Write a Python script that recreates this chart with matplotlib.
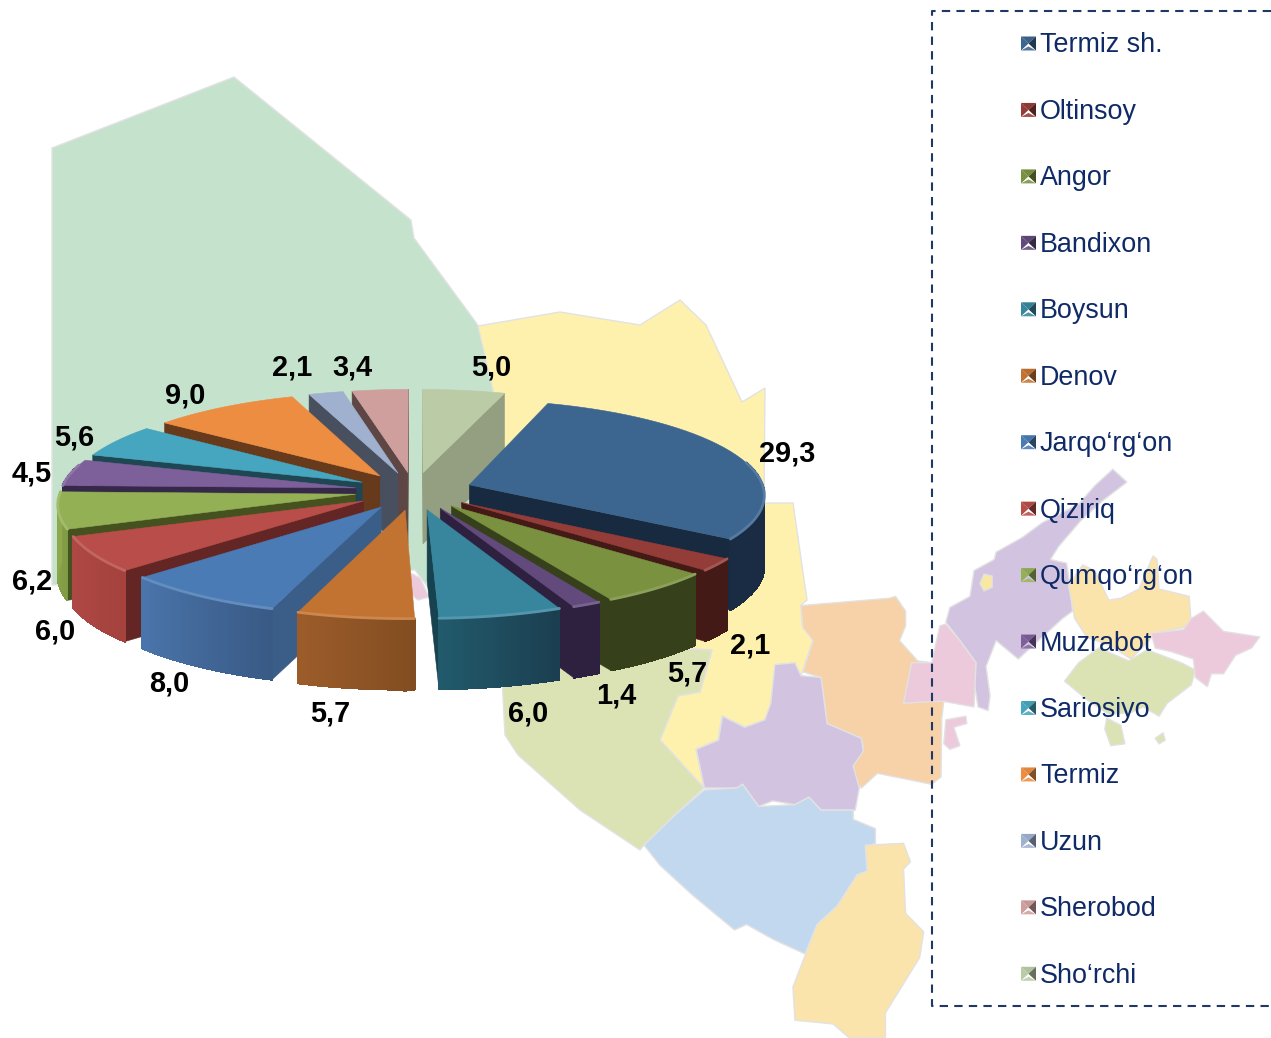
import numpy as np
import matplotlib
matplotlib.use('Agg')
import matplotlib.pyplot as plt
from matplotlib.collections import PolyCollection
from matplotlib.colors import to_rgb

districts = ['Termiz sh.', 'Oltinsoy', 'Angor', 'Bandixon', 'Boysun', 'Denov', 'Jarqo‘rg‘on', 'Qiziriq',
             'Qumqo‘rg‘on', 'Muzrabot', 'Sariosiyo', 'Termiz', 'Uzun', 'Sherobod', 'Sho‘rchi']
shares = [29.3, 2.1, 5.7, 1.4, 6.0, 5.7, 8.0, 6.0, 6.2, 4.5, 5.6, 9.0, 2.1, 3.4, 5.0]

top_colors = ['#3C6590', '#943C38', '#7A9140', '#624A7C', '#38869E', '#C27331', '#4A7BB5', '#B84D49',
              '#93B055', '#7D5F9A', '#46A5BF', '#EC8D42', '#A0B0CF', '#CF9F9E', '#BACBA6']
wall_colors = ['#182A40', '#431A16', '#36401B', '#2E2140', '#174350', '#84501F', '#3A5E88', '#632625',
               '#45521F', '#362848', '#1E4753', '#663A1B', '#484F5E', '#5D4644', '#939F80']
rim_left = ['#1A2C44', '#431A16', '#36401B', '#2E2140', '#215A6B', '#9C5C2A', '#4A75AB', '#AE4844',
            '#8FAA4C', '#362848', '#1E4753', '#663A1B', '#484F5E', '#5D4644', '#939F80']
rim_right = ['#172840', '#431A16', '#36401B', '#2E2140', '#1B3E50', '#824D21', '#395A85', '#A5423E',
             '#7F9A45', '#362848', '#1E4753', '#663A1B', '#484F5E', '#5D4644', '#939F80']

# where the value labels sit, in pixels
label_pos = [(787, 454), (750, 645), (687, 673), (616, 696), (528, 714), (330, 714), (169, 683), (55, 632),
             (32, 582), (32, 474), (74, 438), (185, 396), (292, 368), (352, 367), (491, 367)]

# background map, in pixels
green_nw = [(52, 148), (234, 77), (411, 220), (414, 238), (480, 328), (510, 400), (470, 520), (430, 590),
            (415, 570), (52, 585)]
pink_nw = [(405, 570), (420, 578), (429, 597), (418, 600), (405, 590)]
yellow_n = [(478, 326), (560, 312), (640, 325), (680, 300), (706, 325), (728, 372), (742, 402), (765, 388),
            (764, 503), (793, 503), (807, 600), (801, 605), (802, 625), (813, 640), (801, 676), (795, 663),
            (775, 665), (771, 703), (765, 720), (745, 727), (722, 716), (718, 740), (696, 749), (704, 788),
            (660, 740), (678, 696), (700, 692), (712, 650), (500, 640), (500, 420)]
green_s = [(500, 640), (712, 650), (700, 692), (678, 696), (660, 740), (704, 788), (676, 814), (644, 845),
           (640, 850), (580, 810), (518, 755), (505, 735)]

orange_e = [(400, 395), (620, 375), (635, 370), (660, 410), (660, 450), (645, 490), (690, 545), (725, 550),
            (755, 655), (750, 700), (748, 860), (725, 880), (590, 850), (550, 890), (520, 850), (530, 820),
            (555, 780), (550, 755), (465, 715), (450, 590), (405, 575), (430, 490), (405, 455)]
purple_mid = [(335, 555), (385, 550), (400, 585), (450, 590), (465, 715), (550, 755), (555, 790), (530, 830),
              (545, 890), (535, 950), (450, 950), (420, 915), (385, 935), (330, 925), (295, 940), (255, 880),
              (240, 890), (160, 890), (140, 785), (195, 760), (205, 695), (260, 725), (310, 705), (325, 660)]
blue_s = [(160, 895), (240, 890), (255, 880), (295, 940), (385, 935), (420, 915), (450, 950), (530, 950),
          (530, 975), (585, 1000), (585, 1040), (560, 1050), (565, 1115), (540, 1125), (490, 1210), (440, 1260),
          (410, 1340), (330, 1300), (265, 1260), (235, 1275), (130, 1180), (50, 1100), (10, 1045), (90, 960)]
peach_s = [(560, 1045), (655, 1040), (672, 1090), (655, 1110), (660, 1230), (705, 1280), (695, 1350), (610, 1500),
           (610, 1568), (520, 1568), (480, 1530), (385, 1520), (380, 1430), (410, 1345), (440, 1260), (490, 1210),
           (540, 1125), (565, 1115)]
purple_ne = [(1175, 25), (1210, 60), (1150, 110), (1095, 165), (1040, 235), (1020, 270), (1060, 280), (1070, 350),
             (1075, 410), (1050, 430), (1000, 480), (940, 540), (885, 490), (860, 560), (870, 640), (865, 680),
             (840, 670), (830, 600), (835, 550), (795, 490), (760, 440), (770, 400), (820, 370), (830, 300),
             (880, 270), (885, 250), (950, 210), (1000, 170), (1090, 120), (1130, 70)]
hole_ne = [(855, 310), (875, 315), (875, 345), (855, 355), (845, 335)]
peach_ne = [(1065, 340), (1100, 285), (1130, 300), (1165, 380), (1195, 375), (1240, 350), (1275, 260), (1285, 270),
            (1290, 350), (1365, 370), (1370, 450), (1280, 470), (1265, 490), (1220, 540), (1170, 505), (1110, 480),
            (1080, 430)]
pink_e = [(1270, 470), (1350, 460), (1370, 430), (1400, 410), (1450, 465), (1540, 480), (1520, 510), (1480, 530),
          (1450, 580), (1420, 580), (1410, 615), (1380, 590), (1375, 540), (1320, 520), (1280, 510)]
green_e = [(1055, 600), (1090, 550), (1140, 510), (1215, 545), (1260, 515), (1345, 550), (1380, 570), (1370, 610),
           (1310, 660), (1290, 695), (1250, 670), (1220, 685), (1165, 690), (1110, 650)]
green_e2 = [(1160, 700), (1195, 720), (1205, 770), (1170, 775), (1155, 730)]
green_e3 = [(1300, 740), (1305, 760), (1290, 770), (1280, 755)]
pink_mid = [(745, 450), (760, 445), (795, 490), (835, 550), (830, 670), (755, 655), (725, 655), (655, 660),
            (675, 550), (725, 550)]
pink_small = [(760, 705), (810, 695), (812, 715), (780, 725), (795, 775), (770, 785), (755, 770)]


def to_px(pts):
    return np.array(pts) / [2.485, 2.713] + [640, 460]


def mix(c1, c2, t):
    return tuple(np.array(to_rgb(c1)) * (1 - t) + np.array(to_rgb(c2)) * t)


def project(u, v, z=0.0):
    s = 1 / (1 + persp * v)
    return cx + R * u * s, cy - R * tilt * v * s + z


def side(p, a, b):
    return (b[0] - a[0]) * (p[1] - a[1]) - (b[1] - a[1]) * (p[0] - a[0])


plt.rcParams['font.family'] = ['Liberation Sans', 'DejaVu Sans']
fig = plt.figure(figsize=(12.71, 10.38), dpi=100)
ax = fig.add_axes([0, 0, 1, 1])
ax.set_xlim(0, 1271)
ax.set_ylim(1038, 0)
ax.axis('off')

edge = '#E2E2E2'
map_shapes = [(green_nw, '#C5E2CC'), (pink_nw, '#EDC9DC'), (yellow_n, '#FEF1AE'), (green_s, '#DBE3B5'),
              (to_px(orange_e), '#F7D1A7'), (to_px(purple_mid), '#D2C4E0'), (to_px(blue_s), '#C2D8EE'),
              (to_px(peach_s), '#FAE4AB'), (to_px(purple_ne), '#D2C4E0'), (to_px(hole_ne), '#F9E89F'),
              (to_px(peach_ne), '#FAE4AB'), (to_px(green_e), '#DBE3B5'), (to_px(pink_e), '#EDC9DC'),
              (to_px(green_e2), '#DBE3B5'), (to_px(green_e3), '#DBE3B5'), (to_px(pink_mid), '#EDC9DC'),
              (to_px(pink_small), '#EDC9DC')]
for shape, color in map_shapes:
    ax.add_patch(plt.Polygon(shape, closed=True, facecolor=color, edgecolor=edge, lw=1.0, zorder=1))

# exploded 3D pie
cx, cy = 414, 491
R = 295
tilt = 0.32
persp = 0.095
explode = 0.2
height = 71

vals = np.array(shares)
ends = 18 + np.cumsum(vals) / vals.sum() * 360
starts = ends - vals / vals.sum() * 360
mids = np.radians((starts + ends) / 2)
order = np.argsort(-np.cos(mids))

z = 10
for i in order:
    a = np.radians(np.linspace(starts[i], ends[i], 41))
    ou, ov = explode * np.sin(mids[i]), explode * np.cos(mids[i])
    ru, rv = ou + np.sin(a), ov + np.cos(a)
    apex_t = project(ou, ov)
    apex_b = project(ou, ov, height)
    rim_t = np.array(project(ru, rv)).T
    rim_b = np.array(project(ru, rv, height)).T

    # radial walls, only the ones facing the viewer
    for corner_t, corner_b in [(rim_t[0], rim_b[0]), (rim_t[-1], rim_b[-1])]:
        if side(apex_b, apex_t, corner_t) * side(rim_t[20], apex_t, corner_t) < 0:
            ax.add_patch(plt.Polygon([apex_t, corner_t, corner_b, apex_b], closed=True,
                                     facecolor=wall_colors[i], edgecolor=wall_colors[i], lw=0.4, zorder=z))

    # rim, shaded from one side to the other
    quads = []
    shades = []
    for k in range(40):
        if np.cos(a[k] + (a[1] - a[0]) / 2) + 0.02 < 0.25:
            quads.append([rim_t[k], rim_t[k + 1], rim_b[k + 1], rim_b[k]])
            shades.append(mix(rim_left[i], rim_right[i], 1 - k / 39))
    if quads:
        ax.add_collection(PolyCollection(quads, facecolors=shades, edgecolors=shades, linewidths=0.8,
                                         antialiaseds=False, zorder=z))

    ax.add_patch(plt.Polygon(np.vstack([[apex_t], rim_t]), closed=True, facecolor=top_colors[i],
                             edgecolor=top_colors[i], lw=0.4, zorder=z))
    front = np.cos(a) < 0.25
    if front.any():
        ax.plot(rim_t[front, 0], rim_t[front, 1], color=mix(top_colors[i], 'white', 0.14), lw=2.0,
                solid_capstyle='round', zorder=z)
    z += 1

for val, pos in zip(shares, label_pos):
    ax.text(pos[0], pos[1], f'{val:.1f}'.replace('.', ','), ha='center', va='center', fontsize=20.8,
            fontweight='bold', color='black', zorder=50)

# legend
for i, name in enumerate(districts):
    y = 43 + i * 66.45
    x0, x1, y0, y1 = 1021, 1036, y - 6.5, y + 7.5
    xm, ym = (x0 + x1) / 2, (y0 + y1) / 2
    ax.add_patch(plt.Polygon([(x0, y0), (x1, y0), (xm, ym)], color=mix(top_colors[i], 'black', 0.05), lw=0, zorder=60))
    ax.add_patch(plt.Polygon([(x0, y0), (x0, y1), (xm, ym)], color=top_colors[i], lw=0, zorder=60))
    ax.add_patch(plt.Polygon([(x1, y0), (x1, y1), (xm, ym)], color=mix(top_colors[i], 'black', 0.45), lw=0, zorder=60))
    ax.add_patch(plt.Polygon([(x0, y1), (x1, y1), (xm, ym + 3)], color=mix(top_colors[i], 'white', 0.12), lw=0, zorder=60))
    ax.text(1040, y + 2.5, name, ha='left', va='center', fontsize=19.4, color='#0F2A66', zorder=60)

ax.plot([1271, 932, 932, 1271], [11, 11, 1006, 1006], color='#1F3864', lw=1.5, dashes=(4, 3), zorder=55)

fig.savefig('out.png', dpi=100)
